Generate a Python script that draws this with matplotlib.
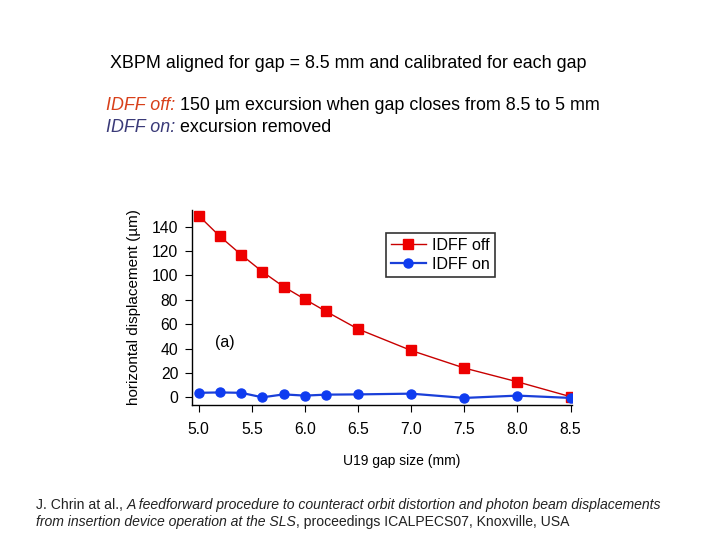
import matplotlib
matplotlib.use("Agg")
import matplotlib.pyplot as plt

plt.rcParams['font.family'] = ['Liberation Sans', 'DejaVu Sans']

gap = [5.0, 5.2, 5.4, 5.6, 5.8, 6.0, 6.2, 6.5, 7.0, 7.5, 8.0, 8.5]
idff_off = [149, 132, 117, 103, 90.7, 80.4, 70.4, 56, 38.4, 24, 12.7, 0.5]
idff_on = [3.7, 4.0, 3.7, 0.0, 2.4, 1.4, 2.2, 2.4, 3.0, -0.5, 1.4, -0.5]
xticks = [5.0, 5.5, 6.0, 6.5, 7.0, 7.5, 8.0, 8.5]
yticks = [0, 20, 40, 60, 80, 100, 120, 140]

fig = plt.figure(figsize=(7.2, 5.4), dpi=100)
ax = fig.add_axes([0.267, 0.25, 0.527, 0.362])

ax.plot(gap, idff_off, color='#c80000', lw=1.0, marker='s', ms=7,
        mfc='#ee0000', mec='#ee0000', label='IDFF off')
ax.plot(gap, idff_on, color='#1a3fd8', lw=1.6, marker='o', ms=6.5,
        mfc='#0f3cf0', mec='#0f3cf0', label='IDFF on')

ax.set_xlim(4.94, 8.51)
ax.set_ylim(-6.3, 154)
ax.set_xticks(xticks)
ax.set_xticklabels(['%.1f' % t for t in xticks])
ax.set_yticks(yticks)
for s in ['top', 'right']:
    ax.spines[s].set_visible(False)
for s in ['left', 'bottom']:
    ax.spines[s].set_linewidth(1.0)
ax.tick_params(axis='both', direction='out', length=5, width=0.8,
               labelsize=11.3, colors='black')
ax.tick_params(axis='x', pad=7)
ax.tick_params(axis='y', pad=5)
ax.set_ylabel('horizontal displacement (µm)', fontsize=11, labelpad=8)
ax.text(5.25, 45, '(a)', fontsize=11.5, ha='center', va='center')

leg = ax.legend(loc='upper left', bbox_to_anchor=(0.51, 0.88), fontsize=11.5,
                frameon=True, fancybox=False, edgecolor='black',
                handlelength=2.2, borderpad=0.3, labelspacing=0.25,
                handletextpad=0.4, borderaxespad=0)
leg.get_frame().set_linewidth(1.2)

fig.text(402 / 720, 1 - 461 / 540, 'U19 gap size (mm)', fontsize=10,
         ha='center', va='center')

# header text
fig.text(110 / 720, 1 - 63 / 540, 'XBPM aligned for gap = 8.5 mm and calibrated for each gap',
         fontsize=12.9, ha='left', va='center')

fig.canvas.draw()
r = fig.canvas.get_renderer()
inv = fig.transFigure.inverted()


def mixed_line(x0, y0, parts, size):
    x = x0
    for txt, style, col in parts:
        t = fig.text(x, y0, txt, fontsize=size, style=style, color=col,
                     ha='left', va='center')
        bb = t.get_window_extent(renderer=r)
        x = inv.transform((bb.x1, bb.y0))[0]


mixed_line(106 / 720, 1 - 105 / 540,
           [('IDFF off:', 'italic', '#d8401a'),
            (' 150 µm excursion when gap closes from 8.5 to 5 mm', 'normal', 'black')], 12.9)
mixed_line(106 / 720, 1 - 128 / 540,
           [('IDFF on:', 'italic', '#3a3a78'),
            (' excursion removed', 'normal', 'black')], 12.9)

mixed_line(36 / 720, 1 - 505 / 540,
           [('J. Chrin at al., ', 'normal', '#222222'),
            ('A feedforward procedure to counteract orbit distortion and photon beam displacements',
             'italic', '#222222')], 10.1)
mixed_line(36 / 720, 1 - 522 / 540,
           [('from insertion device operation at the SLS', 'italic', '#222222'),
            (', proceedings ICALPECS07, Knoxville, USA', 'normal', '#222222')], 10.1)

fig.savefig('out.png', dpi=100)
